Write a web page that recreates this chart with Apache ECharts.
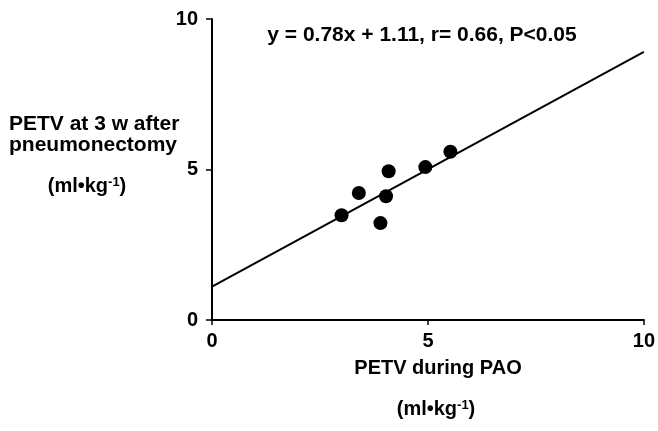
<!DOCTYPE html>
<html>
<head>
<meta charset="utf-8">
<script src="https://cdn.jsdelivr.net/npm/echarts@6/dist/echarts.min.js"></script>
<style>
  html, body { margin: 0; padding: 0; background: #fff; }
  #chart { width: 658px; height: 431px; }
</style>
</head>
<body>
<div id="chart"></div>
<script>
// measured points (PETV during PAO, PETV 3 w after pneumonectomy)
const pointsX = [3.0, 3.4, 3.9, 4.03, 4.09, 4.94, 5.52];
const pointsY = [3.48, 4.22, 3.22, 4.11, 4.94, 5.08, 5.59];
// regression line end points
const fitX = [0, 10];
const fitY = [1.11, 8.91];
const axisTicks = [0, 5, 10];
const equationText = "y = 0.78x + 1.11, r= 0.66, P<0.05";

const font = "'Liberation Sans', Arial, Helvetica, sans-serif";
const chart = echarts.init(document.getElementById("chart"));

const unitRich = {
  b: { fontFamily: font, fontWeight: "bold", fontSize: 20, fill: "#000" },
  sup: { fontFamily: font, fontWeight: "bold", fontSize: 13, fill: "#000", verticalAlign: "top", padding: [0, 0, 4, 0] }
};

const option = {
  animation: false,
  grid: { left: 212, right: 13, top: 19, bottom: 111 },
  xAxis: {
    type: "value",
    min: 0, max: 10, interval: 5,
    axisLine: { lineStyle: { color: "#000", width: 2 } },
    axisTick: { show: true, length: 5, inside: false, lineStyle: { color: "#000", width: 1.5 } },
    splitLine: { show: false },
    axisLabel: { color: "#000", fontFamily: font, fontWeight: "bold", fontSize: 20, margin: 11,
      formatter: v => axisTicks.includes(v) ? String(v) : "" }
  },
  yAxis: {
    type: "value",
    min: 0, max: 10, interval: 5,
    axisLine: { show: true, lineStyle: { color: "#000", width: 2 } },
    axisTick: { show: true, length: 6, inside: false, lineStyle: { color: "#000", width: 1.5 } },
    splitLine: { show: false },
    axisLabel: { color: "#000", fontFamily: font, fontWeight: "bold", fontSize: 20, margin: 14,
      formatter: v => axisTicks.includes(v) ? String(v) : "" }
  },
  series: [
    {
      type: "line",
      data: fitX.map((x, i) => [x, fitY[i]]),
      showSymbol: false,
      lineStyle: { color: "#000", width: 2 },
      z: 2
    },
    {
      type: "scatter",
      data: pointsX.map((x, i) => [x, pointsY[i]]),
      symbolSize: 14,
      itemStyle: { color: "#000", opacity: 1 },
      z: 3
    }
  ],
  graphic: [
    {
      type: "text", x: 422, y: 35,
      style: { text: equationText, fontFamily: font, fontWeight: "bold", fontSize: 21, fill: "#000",
        align: "center", verticalAlign: "middle" }
    },
    {
      type: "text", x: 9, y: 114,
      style: { text: "PETV at 3 w after\npneumonectomy", fontFamily: font, fontWeight: "bold", fontSize: 21, lineHeight: 21, fill: "#000" }
    },
    {
      type: "text", x: 87, y: 186,
      style: { text: "{b|(ml•kg}{sup|-1}{b|)}", rich: unitRich, align: "center", verticalAlign: "middle" }
    },
    {
      type: "text", x: 438, y: 368,
      style: { text: "PETV during PAO", fontFamily: font, fontWeight: "bold", fontSize: 20, fill: "#000",
        align: "center", verticalAlign: "middle" }
    },
    {
      type: "text", x: 436, y: 409,
      style: { text: "{b|(ml•kg}{sup|-1}{b|)}", rich: unitRich, align: "center", verticalAlign: "middle" }
    }
  ]
};

chart.setOption(option);
</script>
</body>
</html>
